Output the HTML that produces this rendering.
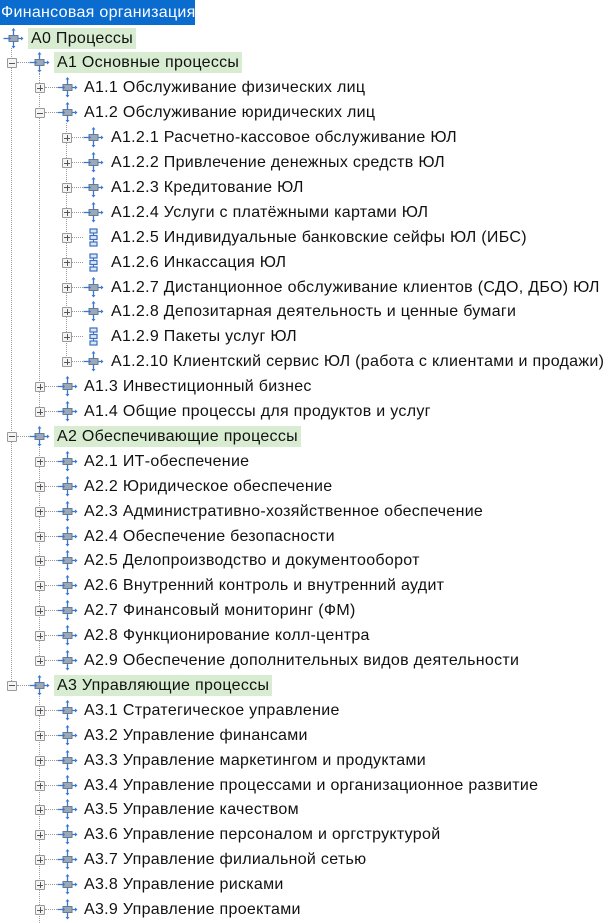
<!DOCTYPE html>
<html><head><meta charset="utf-8">
<style>
body{margin:0;width:616px;height:923px;background:#fff;position:relative;overflow:hidden;font-family:Tahoma,"Liberation Sans","DejaVu Sans",sans-serif;}
.t{position:absolute;left:0;top:0;width:195px;height:25px;background:#0a6ccf;color:#fff;font-size:16px;letter-spacing:0.3px;line-height:25px;padding-left:1px;box-sizing:border-box;white-space:nowrap;}
.r{position:absolute;left:0;height:25px;width:616px;}
.tx{position:absolute;top:2px;height:21px;line-height:21px;font-size:16px;letter-spacing:0.3px;color:#111;white-space:nowrap;padding:0 3px;}
.g{background:#d8ecd2;}
.b{position:absolute;top:8px;width:8px;height:8px;border:1px solid #9a9a9a;background:#f4f4f4;border-radius:1px;}
.b:before{content:"";position:absolute;left:1px;top:3.5px;width:6px;height:1px;background:#555;}
.p:after{content:"";position:absolute;left:3.5px;top:1px;width:1px;height:6px;background:#555;}
.h{position:absolute;top:12px;height:0;border-top:1px dotted #999;}
.v{position:absolute;width:0;border-left:1px dotted #999;}
svg.i{position:absolute;top:2px;width:21px;height:21px;}
</style></head><body>
<svg width="0" height="0" style="position:absolute">
<defs>
<symbol id="pr" viewBox="0 0 21 21">
<rect x="6" y="7.5" width="9" height="6" fill="#9aa8b8" stroke="#6b7a8c" stroke-width="1"/>
<g fill="#3a78d0" stroke="#3a78d0" stroke-width="1.3">
<line x1="0.5" y1="10.5" x2="6" y2="10.5"/><polygon points="6,8.5 6,12.5 8,10.5" stroke="none"/>
<line x1="15" y1="10.5" x2="18.5" y2="10.5"/><polygon points="18,8.5 18,12.5 20.5,10.5" stroke="none"/>
<line x1="10.5" y1="1" x2="10.5" y2="7.5"/><polygon points="8.5,2.5 12.5,2.5 10.5,0" stroke="none"/>
<line x1="10.5" y1="13.5" x2="10.5" y2="19"/><polygon points="8.5,18 12.5,18 10.5,20.5" stroke="none"/>
</g>
</symbol>
<symbol id="db" viewBox="0 0 21 21">
<g fill="#dbe7f7" stroke="#3a6fc0" stroke-width="1.2">
<rect x="7" y="2" width="7" height="4"/><rect x="7" y="8.5" width="7" height="4"/><rect x="7" y="15" width="7" height="4"/>
</g>
<g stroke="#3a6fc0" stroke-width="1"><line x1="10.5" y1="6" x2="10.5" y2="8.5"/><line x1="10.5" y1="12.5" x2="10.5" y2="15"/></g>
</symbol>
</defs></svg>

<div class="t">Финансовая организация</div>

<div class="v" style="left:11px;top:48px;height:637px"></div>
<div class="v" style="left:39px;top:73px;height:338px"></div>
<div class="v" style="left:39px;top:447px;height:213px"></div>
<div class="v" style="left:39px;top:696px;height:227px"></div>
<div class="v" style="left:66px;top:123px;height:239px"></div>

<div class="r" style="top:25.5px"><svg class="i" style="left:3px"><use href="#pr"/></svg><span class="tx g" style="left:28px">A0 Процессы</span></div>

<div class="r" style="top:50.4px"><span class="b" style="left:7px"></span><span class="h" style="left:17px;width:12px"></span><svg class="i" style="left:29px"><use href="#pr"/></svg><span class="tx g" style="left:54px">A1 Основные процессы</span></div>
<div class="r" style="top:75.3px"><span class="b p" style="left:35px"></span><span class="h" style="left:45px;width:12px"></span><svg class="i" style="left:57px"><use href="#pr"/></svg><span class="tx" style="left:81px">A1.1 Обслуживание физических лиц</span></div>
<div class="r" style="top:100.2px"><span class="b" style="left:35px"></span><span class="h" style="left:45px;width:12px"></span><svg class="i" style="left:57px"><use href="#pr"/></svg><span class="tx" style="left:81px">A1.2 Обслуживание юридических лиц</span></div>
<div class="r" style="top:125.1px"><span class="b p" style="left:62px"></span><span class="h" style="left:72px;width:11px"></span><svg class="i" style="left:83px"><use href="#pr"/></svg><span class="tx" style="left:108px">A1.2.1 Расчетно-кассовое обслуживание ЮЛ</span></div>
<div class="r" style="top:150px"><span class="b p" style="left:62px"></span><span class="h" style="left:72px;width:11px"></span><svg class="i" style="left:83px"><use href="#pr"/></svg><span class="tx" style="left:108px">A1.2.2 Привлечение денежных средств ЮЛ</span></div>
<div class="r" style="top:174.9px"><span class="b p" style="left:62px"></span><span class="h" style="left:72px;width:11px"></span><svg class="i" style="left:83px"><use href="#pr"/></svg><span class="tx" style="left:108px">A1.2.3 Кредитование ЮЛ</span></div>
<div class="r" style="top:199.8px"><span class="b p" style="left:62px"></span><span class="h" style="left:72px;width:11px"></span><svg class="i" style="left:83px"><use href="#pr"/></svg><span class="tx" style="left:108px">A1.2.4 Услуги с платёжными картами ЮЛ</span></div>
<div class="r" style="top:224.7px"><span class="b p" style="left:62px"></span><span class="h" style="left:72px;width:11px"></span><svg class="i" style="left:83px"><use href="#db"/></svg><span class="tx" style="left:108px">A1.2.5 Индивидуальные банковские сейфы ЮЛ (ИБС)</span></div>
<div class="r" style="top:249.6px"><span class="b p" style="left:62px"></span><span class="h" style="left:72px;width:11px"></span><svg class="i" style="left:83px"><use href="#db"/></svg><span class="tx" style="left:108px">A1.2.6 Инкассация ЮЛ</span></div>
<div class="r" style="top:274.5px"><span class="b p" style="left:62px"></span><span class="h" style="left:72px;width:11px"></span><svg class="i" style="left:83px"><use href="#pr"/></svg><span class="tx" style="left:108px">A1.2.7 Дистанционное обслуживание клиентов (СДО, ДБО) ЮЛ</span></div>
<div class="r" style="top:299.4px"><span class="b p" style="left:62px"></span><span class="h" style="left:72px;width:11px"></span><svg class="i" style="left:83px"><use href="#pr"/></svg><span class="tx" style="left:108px">A1.2.8 Депозитарная деятельность и ценные бумаги</span></div>
<div class="r" style="top:324.3px"><span class="b p" style="left:62px"></span><span class="h" style="left:72px;width:11px"></span><svg class="i" style="left:83px"><use href="#db"/></svg><span class="tx" style="left:108px">A1.2.9 Пакеты услуг ЮЛ</span></div>
<div class="r" style="top:349.2px"><span class="b p" style="left:62px"></span><span class="h" style="left:72px;width:11px"></span><svg class="i" style="left:83px"><use href="#pr"/></svg><span class="tx" style="left:108px">A1.2.10 Клиентский сервис ЮЛ (работа с клиентами и продажи)</span></div>
<div class="r" style="top:374.1px"><span class="b p" style="left:35px"></span><span class="h" style="left:45px;width:12px"></span><svg class="i" style="left:57px"><use href="#pr"/></svg><span class="tx" style="left:81px">A1.3 Инвестиционный бизнес</span></div>
<div class="r" style="top:399px"><span class="b p" style="left:35px"></span><span class="h" style="left:45px;width:12px"></span><svg class="i" style="left:57px"><use href="#pr"/></svg><span class="tx" style="left:81px">A1.4 Общие процессы для продуктов и услуг</span></div>

<div class="r" style="top:423.9px"><span class="b" style="left:7px"></span><span class="h" style="left:17px;width:12px"></span><svg class="i" style="left:29px"><use href="#pr"/></svg><span class="tx g" style="left:54px">A2 Обеспечивающие процессы</span></div>
<div class="r" style="top:448.8px"><span class="b p" style="left:35px"></span><span class="h" style="left:45px;width:12px"></span><svg class="i" style="left:57px"><use href="#pr"/></svg><span class="tx" style="left:81px">A2.1 ИТ-обеспечение</span></div>
<div class="r" style="top:473.7px"><span class="b p" style="left:35px"></span><span class="h" style="left:45px;width:12px"></span><svg class="i" style="left:57px"><use href="#pr"/></svg><span class="tx" style="left:81px">A2.2 Юридическое обеспечение</span></div>
<div class="r" style="top:498.6px"><span class="b p" style="left:35px"></span><span class="h" style="left:45px;width:12px"></span><svg class="i" style="left:57px"><use href="#pr"/></svg><span class="tx" style="left:81px">A2.3 Административно-хозяйственное обеспечение</span></div>
<div class="r" style="top:523.5px"><span class="b p" style="left:35px"></span><span class="h" style="left:45px;width:12px"></span><svg class="i" style="left:57px"><use href="#pr"/></svg><span class="tx" style="left:81px">A2.4 Обеспечение безопасности</span></div>
<div class="r" style="top:548.4px"><span class="b p" style="left:35px"></span><span class="h" style="left:45px;width:12px"></span><svg class="i" style="left:57px"><use href="#pr"/></svg><span class="tx" style="left:81px">A2.5 Делопроизводство и документооборот</span></div>
<div class="r" style="top:573.3px"><span class="b p" style="left:35px"></span><span class="h" style="left:45px;width:12px"></span><svg class="i" style="left:57px"><use href="#pr"/></svg><span class="tx" style="left:81px">A2.6 Внутренний контроль и внутренний аудит</span></div>
<div class="r" style="top:598.2px"><span class="b p" style="left:35px"></span><span class="h" style="left:45px;width:12px"></span><svg class="i" style="left:57px"><use href="#pr"/></svg><span class="tx" style="left:81px">A2.7 Финансовый мониторинг (ФМ)</span></div>
<div class="r" style="top:623.1px"><span class="b p" style="left:35px"></span><span class="h" style="left:45px;width:12px"></span><svg class="i" style="left:57px"><use href="#pr"/></svg><span class="tx" style="left:81px">A2.8 Функционирование колл-центра</span></div>
<div class="r" style="top:648px"><span class="b p" style="left:35px"></span><span class="h" style="left:45px;width:12px"></span><svg class="i" style="left:57px"><use href="#pr"/></svg><span class="tx" style="left:81px">A2.9 Обеспечение дополнительных видов деятельности</span></div>

<div class="r" style="top:672.9px"><span class="b" style="left:7px"></span><span class="h" style="left:17px;width:12px"></span><svg class="i" style="left:29px"><use href="#pr"/></svg><span class="tx g" style="left:54px">A3 Управляющие процессы</span></div>
<div class="r" style="top:697.8px"><span class="b p" style="left:35px"></span><span class="h" style="left:45px;width:12px"></span><svg class="i" style="left:57px"><use href="#pr"/></svg><span class="tx" style="left:81px">A3.1 Стратегическое управление</span></div>
<div class="r" style="top:722.7px"><span class="b p" style="left:35px"></span><span class="h" style="left:45px;width:12px"></span><svg class="i" style="left:57px"><use href="#pr"/></svg><span class="tx" style="left:81px">A3.2 Управление финансами</span></div>
<div class="r" style="top:747.6px"><span class="b p" style="left:35px"></span><span class="h" style="left:45px;width:12px"></span><svg class="i" style="left:57px"><use href="#pr"/></svg><span class="tx" style="left:81px">A3.3 Управление маркетингом и продуктами</span></div>
<div class="r" style="top:772.5px"><span class="b p" style="left:35px"></span><span class="h" style="left:45px;width:12px"></span><svg class="i" style="left:57px"><use href="#pr"/></svg><span class="tx" style="left:81px">A3.4 Управление процессами и организационное развитие</span></div>
<div class="r" style="top:797.4px"><span class="b p" style="left:35px"></span><span class="h" style="left:45px;width:12px"></span><svg class="i" style="left:57px"><use href="#pr"/></svg><span class="tx" style="left:81px">A3.5 Управление качеством</span></div>
<div class="r" style="top:822.3px"><span class="b p" style="left:35px"></span><span class="h" style="left:45px;width:12px"></span><svg class="i" style="left:57px"><use href="#pr"/></svg><span class="tx" style="left:81px">A3.6 Управление персоналом и оргструктурой</span></div>
<div class="r" style="top:847.2px"><span class="b p" style="left:35px"></span><span class="h" style="left:45px;width:12px"></span><svg class="i" style="left:57px"><use href="#pr"/></svg><span class="tx" style="left:81px">A3.7 Управление филиальной сетью</span></div>
<div class="r" style="top:872.1px"><span class="b p" style="left:35px"></span><span class="h" style="left:45px;width:12px"></span><svg class="i" style="left:57px"><use href="#pr"/></svg><span class="tx" style="left:81px">A3.8 Управление рисками</span></div>
<div class="r" style="top:897px"><span class="b p" style="left:35px"></span><span class="h" style="left:45px;width:12px"></span><svg class="i" style="left:57px"><use href="#pr"/></svg><span class="tx" style="left:81px">A3.9 Управление проектами</span></div>
</body></html>
